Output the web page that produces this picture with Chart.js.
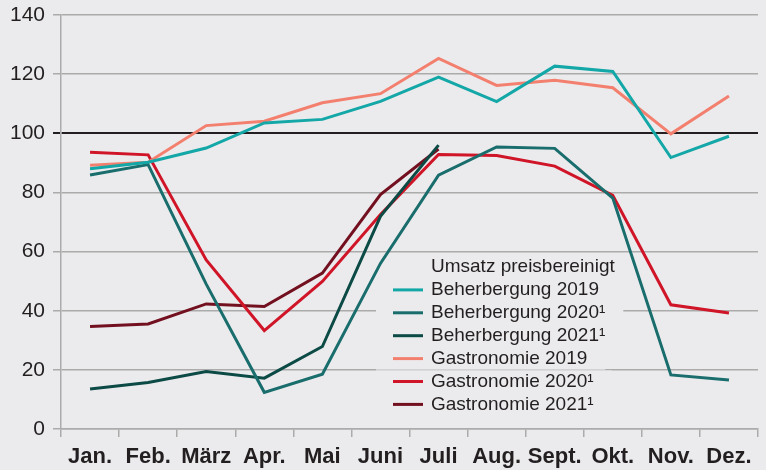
<!DOCTYPE html>
<html>
<head>
<meta charset="utf-8">
<script src="https://cdn.jsdelivr.net/npm/chart.js@4/dist/chart.umd.min.js"></script>
<style>
  html, body { margin: 0; padding: 0; background: #ebebed; }
  #wrap { width: 766px; height: 470px; }
</style>
</head>
<body>
<div id="wrap"><canvas id="chart" width="766" height="470"></canvas></div>
<script>
// Data
const months = ['Jan.', 'Feb.', 'März', 'Apr.', 'Mai', 'Juni', 'Juli', 'Aug.', 'Sept.', 'Okt.', 'Nov.', 'Dez.'];
const beherbergung2019 = [88, 90.2, 95, 103.5, 104.7, 110.8, 119, 110.7, 122.7, 120.9, 91.8, 99];
const beherbergung2020 = [85.9, 89.4, 49, 12.4, 18.5, 56, 85.8, 95.4, 94.9, 78.1, 18.3, 16.6];
const beherbergung2021 = [13.5, 15.7, 19.4, 17.2, 27.9, 71.9, 96, null, null, null, null, null];
const gastronomie2019 = [89.2, 90.2, 102.6, 104.1, 110.3, 113.4, 125.3, 116.2, 117.9, 115.4, 99.8, 112.6];
const gastronomie2020 = [93.6, 92.7, 57.2, 33.3, 49.9, 72.5, 92.8, 92.5, 88.9, 79, 42, 39.2];
const gastronomie2021 = [34.7, 35.5, 42.3, 41.4, 52.7, 79.3, 94.7, null, null, null, null, null];
const legendTitle = 'Umsatz preisbereinigt';

const colors = {
  beh19: '#14a7a7',
  beh20: '#196d6c',
  beh21: '#0c4a45',
  gas19: '#f3806f',
  gas20: '#cf1527',
  gas21: '#731020',
  text: '#231f20',
  grid: '#ababab',
  bg: '#ebebed'
};

const FONT = "'Liberation Sans', Arial, Helvetica, sans-serif";

function line(label, data, color) {
  return {
    label,
    data,
    borderColor: color,
    backgroundColor: color,
    borderWidth: 3,
    pointRadius: 0,
    tension: 0,
    fill: false,
  };
}

// Legend drawn inside the plot, knocking out grid lines behind the text
const insideLegend = {
  id: 'insideLegend',
  beforeDatasetsDraw(chart) {
    const { ctx } = chart;
    const x0 = 376, textX = 431, rowH = 22.9, firstY = 267;
    ctx.save();
    ctx.font = `19px ${FONT}`;
    const rows = [legendTitle, ...chart.data.datasets.map(d => d.label)];
    ctx.fillStyle = colors.bg;
    rows.forEach((txt, i) => {
      const y = firstY + i * rowH;
      const w = ctx.measureText(txt).width;
      ctx.fillRect(x0, y - 11, textX + w + 18 - x0, 22);
    });
    ctx.restore();
  },
  afterDatasetsDraw(chart) {
    const { ctx } = chart;
    const textX = 431, rowH = 22.9, firstY = 267;
    ctx.save();
    ctx.font = `19px ${FONT}`;
    ctx.textBaseline = 'middle';
    ctx.fillStyle = colors.text;
    ctx.fillText(legendTitle, textX, firstY);
    chart.data.datasets.forEach((ds, i) => {
      const y = firstY + (i + 1) * rowH;
      ctx.strokeStyle = ds.borderColor;
      ctx.lineWidth = 3;
      ctx.beginPath();
      ctx.moveTo(393, y);
      ctx.lineTo(423, y);
      ctx.stroke();
      ctx.fillStyle = colors.text;
      ctx.fillText(ds.label, textX, y);
    });
    ctx.restore();
  }
};

new Chart(document.getElementById('chart'), {
  type: 'line',
  data: {
    labels: months,
    datasets: [
      line('Beherbergung 2019', beherbergung2019, colors.beh19),
      line('Beherbergung 2020¹', beherbergung2020, colors.beh20),
      line('Beherbergung 2021¹', beherbergung2021, colors.beh21),
      line('Gastronomie 2019', gastronomie2019, colors.gas19),
      line('Gastronomie 2020¹', gastronomie2020, colors.gas20),
      line('Gastronomie 2021¹', gastronomie2021, colors.gas21),
    ]
  },
  options: {
    responsive: false,
    animation: false,
    layout: { padding: { top: 15, right: 8, bottom: 0, left: 0 } },
    plugins: {
      legend: { display: false },
      tooltip: { enabled: false }
    },
    scales: {
      x: {
        offset: true,
        grid: {
          offset: true,
          drawOnChartArea: false,
          drawTicks: true,
          tickLength: 8,
          color: colors.grid,
          lineWidth: 1.5
        },
        border: { display: true, color: colors.grid, width: 1.5 },
        ticks: {
          autoSkip: false,
          maxRotation: 0,
          padding: 9,
          color: colors.text,
          font: { family: FONT, size: 22, weight: 'bold', lineHeight: 1 }
        },
        afterFit: scale => { scale.height = 41; }
      },
      y: {
        min: 0,
        max: 140,
        grid: {
          tickLength: 8,
          color: c => (c.tick && c.tick.value === 100 ? colors.text : colors.grid),
          lineWidth: c => (c.tick && c.tick.value === 100 ? 2 : 1.5)
        },
        border: { display: true, color: colors.grid, width: 1.5 },
        ticks: {
          stepSize: 20,
          padding: 8,
          color: colors.text,
          font: { family: FONT, size: 21, lineHeight: 0.6 }
        },
        afterFit: scale => { scale.width = 61; }
      }
    }
  },
  plugins: [insideLegend]
});
</script>
</body>
</html>
